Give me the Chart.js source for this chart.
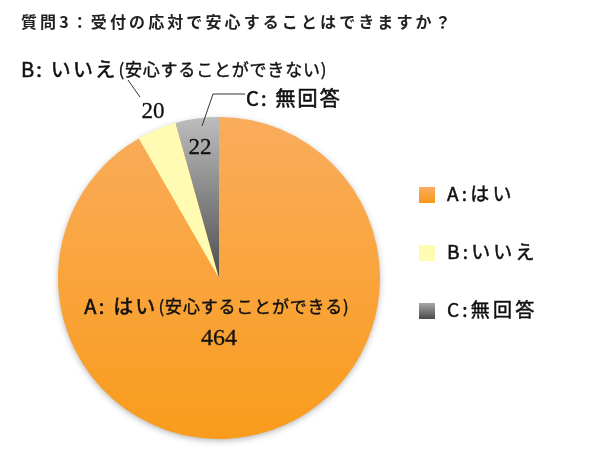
<!DOCTYPE html>
<html>
<head>
<meta charset="utf-8">
<script src="https://cdn.jsdelivr.net/npm/chart.js@4/dist/chart.umd.min.js"></script>
<style>
  html, body { margin: 0; padding: 0; background: #fff; }
  #wrap { position: relative; width: 607px; height: 456px; }
</style>
</head>
<body>
<div id="wrap"><canvas id="pie"></canvas></div>
<script>
// data
const categories   = ['A:はい', 'B:いいえ', 'C:無回答'];
const detailLabels = ['(安心することができる)', '(安心することができない)', ''];
const values       = [464, 20, 22];
const title        = '質問3：受付の応対で安心することはできますか？';

const JP    = '"Noto Sans CJK JP", "Noto Sans", sans-serif';
const SERIF = '"Liberation Serif", "DejaVu Serif", serif';

// vertical gradients for slices (orange, yellow, gray)
function sliceFill(ctx) {
  const chart = ctx.chart;
  const area = chart.chartArea;
  if (!area) return '#F9A640';
  const c = chart.ctx;
  const i = ctx.dataIndex;
  if (i === 0) {
    const g = c.createLinearGradient(0, area.top, 0, area.bottom);
    g.addColorStop(0, '#F9AC5C');
    g.addColorStop(1, '#F99C1C');
    return g;
  }
  if (i === 1) return '#FFFBB2';
  const cy = (area.top + area.bottom) / 2;
  const g = c.createLinearGradient(0, area.top, 0, cy);
  g.addColorStop(0, '#BDBDBD');
  g.addColorStop(1, '#4D4D4D');
  return g;
}

// soft shadow under the pie
const pieShadow = {
  id: 'pieShadow',
  beforeDatasetsDraw(chart) {
    const arc = chart.getDatasetMeta(0).data[0];
    if (!arc) return;
    const c = chart.ctx;
    c.save();
    c.shadowColor = 'rgba(0,0,0,0.35)';
    c.shadowBlur = 7;
    c.shadowOffsetY = 2;
    c.beginPath();
    c.arc(arc.x, arc.y, arc.outerRadius - 1, 0, Math.PI * 2);
    c.fillStyle = '#F9A640';
    c.fill();
    c.restore();
  }
};

// text helper: returns drawn width; heavy adds a thin stroke for a medium weight look
function txt(c, s, x, y, font, spacing, align, heavy) {
  c.font = font;
  c.letterSpacing = (spacing || 0) + 'px';
  c.textAlign = align || 'left';
  c.fillText(s, x, y);
  if (heavy) {
    c.strokeStyle = c.fillStyle;
    c.lineWidth = heavy;
    c.strokeText(s, x, y);
  }
  const w = c.measureText(s).width;
  c.letterSpacing = '0px';
  return w;
}
function width(c, s, font, spacing) {
  c.font = font;
  c.letterSpacing = (spacing || 0) + 'px';
  const w = c.measureText(s).width;
  c.letterSpacing = '0px';
  return w;
}

// callout labels, value numbers, title and legend
const annotations = {
  id: 'annotations',
  afterDraw(chart) {
    const c = chart.ctx;
    const arcs = chart.getDatasetMeta(0).data;
    const big = '20px ' + JP;
    const small = '17px ' + JP;
    const num = '23px ' + SERIF;
    c.save();
    c.textBaseline = 'middle';

    // title
    c.fillStyle = '#222';
    txt(c, title, 21, 22, 'bold 16px ' + JP, 3.1);

    // B callout
    c.fillStyle = '#111';
    const bw = txt(c, 'B: いいえ', 21, 69, big, 2.2, 'left', 0.6);
    txt(c, detailLabels[1], 21 + bw + 1, 70, small, 0.8, 'left', 0.4);
    c.strokeStyle = '#333';
    c.lineWidth = 1;
    c.beginPath();
    c.moveTo(128, 80);
    c.lineTo(140, 97);
    c.stroke();
    txt(c, String(values[1]), 153, 112, num, 0, 'center', 0.3);

    // C callout
    c.strokeStyle = '#333';
    c.lineWidth = 1;
    c.beginPath();
    c.moveTo(202, 126);
    c.lineTo(213, 94);
    c.lineTo(245, 94);
    c.stroke();
    txt(c, 'C: 無回答', 246, 98, big, 2.2, 'left', 0.6);
    txt(c, String(values[2]), 200, 148, num, 0, 'center', 0.3);

    // A label inside the pie
    const a = arcs[0];
    const aw = width(c, 'A: はい', big, 2.2);
    const dw = width(c, detailLabels[0], small, 0.8);
    const ax = a.x - (aw + dw + 1) / 2 - 2;
    txt(c, 'A: はい', ax, 306, big, 2.2, 'left', 0.6);
    txt(c, detailLabels[0], ax + aw + 1, 307, small, 0.8, 'left', 0.4);
    txt(c, String(values[0]), a.x, 339, '24px ' + SERIF, 0, 'center', 0.3);

    // legend
    const ly = [195, 253, 311];
    categories.forEach((name, i) => {
      const y = ly[i];
      let fill;
      if (i === 0) {
        fill = c.createLinearGradient(0, y - 8, 0, y + 8);
        fill.addColorStop(0, '#F9AE62'); fill.addColorStop(1, '#F8961A');
      } else if (i === 1) {
        fill = '#FFFBB2';
      } else {
        fill = c.createLinearGradient(0, y - 8, 0, y + 8);
        fill.addColorStop(0, '#A8A8A8'); fill.addColorStop(1, '#4A4A4A');
      }
      c.fillStyle = fill;
      c.fillRect(419, y - 8, 16, 16);
      c.fillStyle = '#111';
      txt(c, name, 447, y - 1, '19px ' + JP, 3.2, 'left', 0.5);
    });
    c.restore();
  }
};

new Chart(document.getElementById('pie'), {
  type: 'pie',
  data: {
    labels: categories,
    datasets: [{
      data: values,
      backgroundColor: sliceFill,
      borderWidth: 0,
      hoverOffset: 0
    }]
  },
  options: {
    responsive: true,
    maintainAspectRatio: false,
    animation: false,
    layout: { padding: { left: 57, right: 226, top: 117, bottom: 17 } },
    plugins: {
      legend: { display: false },
      tooltip: { enabled: false },
      title: { display: false }
    }
  },
  plugins: [pieShadow, annotations]
});
</script>
</body>
</html>
